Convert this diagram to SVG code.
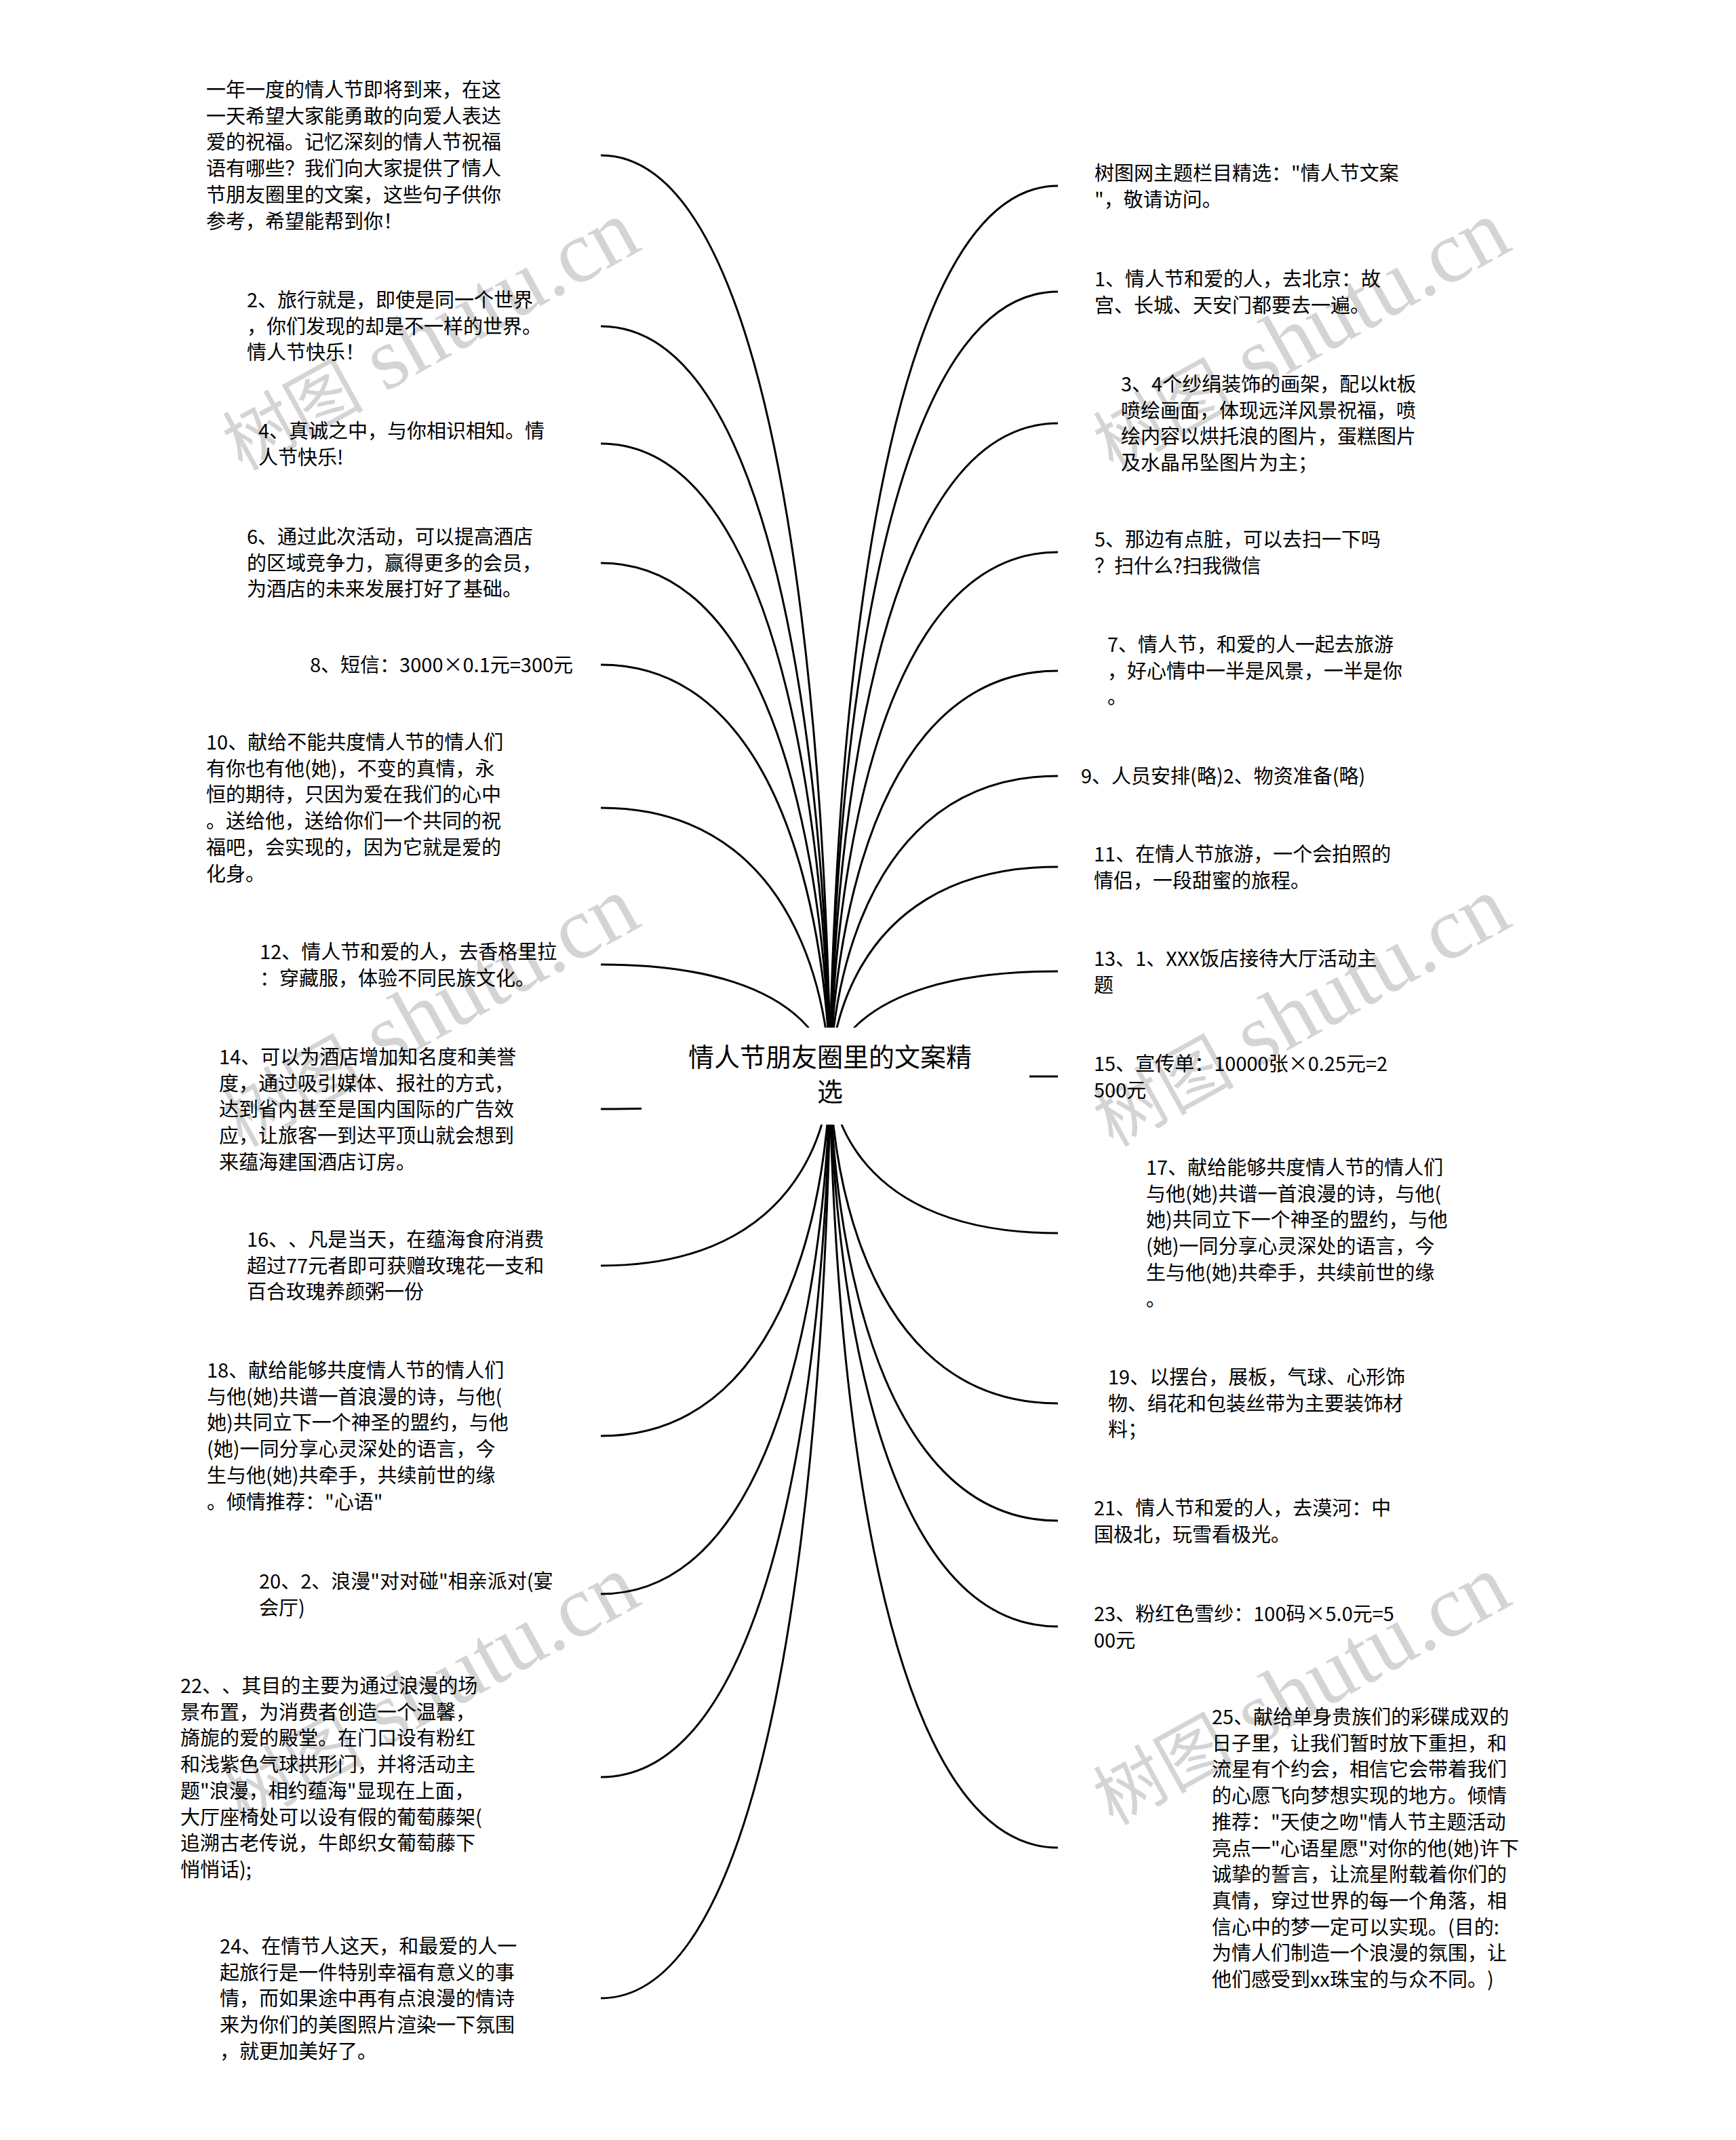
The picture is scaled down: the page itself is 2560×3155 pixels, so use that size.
<svg xmlns="http://www.w3.org/2000/svg" width="2560" height="3155" viewBox="0 0 2560 3155">
<style>
.t{font-family:"Noto Sans CJK SC","Liberation Sans",sans-serif;font-size:29px;fill:#000;text-spacing-trim:space-all}
.root{font-family:"Noto Sans CJK SC","Liberation Sans",sans-serif;font-size:38px;fill:#000;text-anchor:middle}
.c{fill:none;stroke:#000;stroke-width:3}
.wm{font-family:"Liberation Serif","Noto Sans CJK SC",serif;font-size:130px;fill:#000;fill-opacity:0.17}
.wm .cj{font-family:"Noto Sans CJK SC",serif;font-size:104px}
</style>
<rect width="2560" height="3155" fill="#fff"/>
<g id="watermarks">
<text class="wm" x="357" y="695" transform="rotate(-29 357 695)"><tspan class="cj">树图</tspan> shutu.cn</text>
<text class="wm" x="1641" y="695" transform="rotate(-29 1641 695)"><tspan class="cj">树图</tspan> shutu.cn</text>
<text class="wm" x="357" y="1692" transform="rotate(-29 357 1692)"><tspan class="cj">树图</tspan> shutu.cn</text>
<text class="wm" x="1641" y="1692" transform="rotate(-29 1641 1692)"><tspan class="cj">树图</tspan> shutu.cn</text>
<text class="wm" x="357" y="2692" transform="rotate(-29 357 2692)"><tspan class="cj">树图</tspan> shutu.cn</text>
<text class="wm" x="1641" y="2692" transform="rotate(-29 1641 2692)"><tspan class="cj">树图</tspan> shutu.cn</text>
</g>
<g id="connectors">
<path class="c" d="M886 229 C1224 229 1224 1586 1224 1586"/>
<path class="c" d="M886 481 C1224 481 1224 1586 1224 1586"/>
<path class="c" d="M886 654 C1224 654 1224 1586 1224 1586"/>
<path class="c" d="M886 830 C1224 830 1224 1586 1224 1586"/>
<path class="c" d="M886 980 C1224 980 1224 1586 1224 1586"/>
<path class="c" d="M886 1191 C1224 1191 1224 1586 1224 1586"/>
<path class="c" d="M886 1422 C1224 1422 1224 1586 1224 1586"/>
<path class="c" d="M886 1635 C1224 1635 1224 1586 1224 1586"/>
<path class="c" d="M886 1866 C1224 1866 1224 1586 1224 1586"/>
<path class="c" d="M886 2117 C1224 2117 1224 1586 1224 1586"/>
<path class="c" d="M886 2350 C1224 2350 1224 1586 1224 1586"/>
<path class="c" d="M886 2620 C1224 2620 1224 1586 1224 1586"/>
<path class="c" d="M886 2946 C1224 2946 1224 1586 1224 1586"/>
<path class="c" d="M1560 274 C1224 274 1224 1586 1224 1586"/>
<path class="c" d="M1560 430 C1224 430 1224 1586 1224 1586"/>
<path class="c" d="M1560 624 C1224 624 1224 1586 1224 1586"/>
<path class="c" d="M1560 814 C1224 814 1224 1586 1224 1586"/>
<path class="c" d="M1560 989 C1224 989 1224 1586 1224 1586"/>
<path class="c" d="M1560 1144 C1224 1144 1224 1586 1224 1586"/>
<path class="c" d="M1560 1278 C1224 1278 1224 1586 1224 1586"/>
<path class="c" d="M1560 1432 C1224 1432 1224 1586 1224 1586"/>
<path class="c" d="M1560 1587 C1224 1587 1224 1586 1224 1586"/>
<path class="c" d="M1560 1818 C1224 1818 1224 1586 1224 1586"/>
<path class="c" d="M1560 2069 C1224 2069 1224 1586 1224 1586"/>
<path class="c" d="M1560 2242 C1224 2242 1224 1586 1224 1586"/>
<path class="c" d="M1560 2398 C1224 2398 1224 1586 1224 1586"/>
<path class="c" d="M1560 2724 C1224 2724 1224 1586 1224 1586"/>
</g>
<g id="root">
<rect x="946" y="1515" width="572" height="143" fill="#fff"/>
<text class="root"><tspan x="1224" y="1572">情人节朋友圈里的文案精</tspan><tspan x="1224" y="1623">选</tspan></text>
</g>
<g id="L1"><text class="t"><tspan x="304" y="143">一年一度的情人节即将到来，在这</tspan><tspan x="304" y="182">一天希望大家能勇敢的向爱人表达</tspan><tspan x="304" y="220">爱的祝福。记忆深刻的情人节祝福</tspan><tspan x="304" y="259">语有哪些？我们向大家提供了情人</tspan><tspan x="304" y="298">节朋友圈里的文案，这些句子供你</tspan><tspan x="304" y="337">参考，希望能帮到你！</tspan></text></g>
<g id="L2"><text class="t"><tspan x="364" y="453">2、旅行就是，即使是同一个世界</tspan><tspan x="364" y="492">，你们发现的却是不一样的世界。</tspan><tspan x="364" y="530">情人节快乐！</tspan></text></g>
<g id="L3"><text class="t"><tspan x="381" y="646">4、真诚之中，与你相识相知。情</tspan><tspan x="381" y="685">人节快乐!</tspan></text></g>
<g id="L4"><text class="t"><tspan x="364" y="802">6、通过此次活动，可以提高酒店</tspan><tspan x="364" y="841">的区域竞争力，赢得更多的会员，</tspan><tspan x="364" y="879">为酒店的未来发展打好了基础。</tspan></text></g>
<g id="L5"><text class="t"><tspan x="457" y="991">8、短信：3000×0.1元=300元</tspan></text></g>
<g id="L6"><text class="t"><tspan x="304" y="1105">10、献给不能共度情人节的情人们</tspan><tspan x="304" y="1144">有你也有他(她)，不变的真情，永</tspan><tspan x="304" y="1182">恒的期待，只因为爱在我们的心中</tspan><tspan x="304" y="1221">。送给他，送给你们一个共同的祝</tspan><tspan x="304" y="1260">福吧，会实现的，因为它就是爱的</tspan><tspan x="304" y="1299">化身。</tspan></text></g>
<g id="L7"><text class="t"><tspan x="383" y="1414">12、情人节和爱的人，去香格里拉</tspan><tspan x="383" y="1453">：穿藏服，体验不同民族文化。</tspan></text></g>
<g id="L8"><text class="t"><tspan x="323" y="1569">14、可以为酒店增加知名度和美誉</tspan><tspan x="323" y="1608">度，通过吸引媒体、报社的方式，</tspan><tspan x="323" y="1646">达到省内甚至是国内国际的广告效</tspan><tspan x="323" y="1685">应，让旅客一到达平顶山就会想到</tspan><tspan x="323" y="1724">来蕴海建国酒店订房。</tspan></text></g>
<g id="L9"><text class="t"><tspan x="364" y="1838">16、、凡是当天，在蕴海食府消费</tspan><tspan x="364" y="1877">超过77元者即可获赠玫瑰花一支和</tspan><tspan x="364" y="1915">百合玫瑰养颜粥一份</tspan></text></g>
<g id="L10"><text class="t"><tspan x="305" y="2031">18、献给能够共度情人节的情人们</tspan><tspan x="305" y="2070">与他(她)共谱一首浪漫的诗，与他(</tspan><tspan x="305" y="2108">她)共同立下一个神圣的盟约，与他</tspan><tspan x="305" y="2147">(她)一同分享心灵深处的语言，今</tspan><tspan x="305" y="2186">生与他(她)共牵手，共续前世的缘</tspan><tspan x="305" y="2225">。倾情推荐："心语"</tspan></text></g>
<g id="L11"><text class="t"><tspan x="382" y="2342">20、2、浪漫"对对碰"相亲派对(宴</tspan><tspan x="382" y="2381">会厅)</tspan></text></g>
<g id="L12"><text class="t"><tspan x="266" y="2496">22、、其目的主要为通过浪漫的场</tspan><tspan x="266" y="2535">景布置，为消费者创造一个温馨，</tspan><tspan x="266" y="2573">旖旎的爱的殿堂。在门口设有粉红</tspan><tspan x="266" y="2612">和浅紫色气球拱形门，并将活动主</tspan><tspan x="266" y="2651">题"浪漫，相约蕴海"显现在上面，</tspan><tspan x="266" y="2690">大厅座椅处可以设有假的葡萄藤架(</tspan><tspan x="266" y="2728">追溯古老传说，牛郎织女葡萄藤下</tspan><tspan x="266" y="2767">悄悄话);</tspan></text></g>
<g id="L13"><text class="t"><tspan x="324" y="2880">24、在情节人这天，和最爱的人一</tspan><tspan x="324" y="2919">起旅行是一件特别幸福有意义的事</tspan><tspan x="324" y="2957">情，而如果途中再有点浪漫的情诗</tspan><tspan x="324" y="2996">来为你们的美图照片渲染一下氛围</tspan><tspan x="324" y="3035">，就更加美好了。</tspan></text></g>
<g id="R1"><text class="t"><tspan x="1614" y="266">树图网主题栏目精选："情人节文案</tspan><tspan x="1614" y="305">"，敬请访问。</tspan></text></g>
<g id="R2"><text class="t"><tspan x="1614" y="422">1、情人节和爱的人，去北京：故</tspan><tspan x="1614" y="461">宫、长城、天安门都要去一遍。</tspan></text></g>
<g id="R3"><text class="t"><tspan x="1653" y="577">3、4个纱绢装饰的画架，配以kt板</tspan><tspan x="1653" y="616">喷绘画面，体现远洋风景祝福，喷</tspan><tspan x="1653" y="654">绘内容以烘托浪的图片，蛋糕图片</tspan><tspan x="1653" y="693">及水晶吊坠图片为主；</tspan></text></g>
<g id="R4"><text class="t"><tspan x="1614" y="806">5、那边有点脏，可以去扫一下吗</tspan><tspan x="1614" y="845">？扫什么?扫我微信</tspan></text></g>
<g id="R5"><text class="t"><tspan x="1633" y="961">7、情人节，和爱的人一起去旅游</tspan><tspan x="1633" y="1000">，好心情中一半是风景，一半是你</tspan><tspan x="1633" y="1038">。</tspan></text></g>
<g id="R6"><text class="t"><tspan x="1594" y="1155">9、人员安排(略)2、物资准备(略)</tspan></text></g>
<g id="R7"><text class="t"><tspan x="1613" y="1270">11、在情人节旅游，一个会拍照的</tspan><tspan x="1613" y="1309">情侣，一段甜蜜的旅程。</tspan></text></g>
<g id="R8"><text class="t"><tspan x="1613" y="1424">13、1、XXX饭店接待大厅活动主</tspan><tspan x="1613" y="1463">题</tspan></text></g>
<g id="R9"><text class="t"><tspan x="1613" y="1579">15、宣传单：10000张×0.25元=2</tspan><tspan x="1613" y="1618">500元</tspan></text></g>
<g id="R10"><text class="t"><tspan x="1690" y="1732">17、献给能够共度情人节的情人们</tspan><tspan x="1690" y="1771">与他(她)共谱一首浪漫的诗，与他(</tspan><tspan x="1690" y="1809">她)共同立下一个神圣的盟约，与他</tspan><tspan x="1690" y="1848">(她)一同分享心灵深处的语言，今</tspan><tspan x="1690" y="1887">生与他(她)共牵手，共续前世的缘</tspan><tspan x="1690" y="1926">。</tspan></text></g>
<g id="R11"><text class="t"><tspan x="1634" y="2041">19、以摆台，展板，气球、心形饰</tspan><tspan x="1634" y="2080">物、绢花和包装丝带为主要装饰材</tspan><tspan x="1634" y="2118">料；</tspan></text></g>
<g id="R12"><text class="t"><tspan x="1613" y="2234">21、情人节和爱的人，去漠河：中</tspan><tspan x="1613" y="2273">国极北，玩雪看极光。</tspan></text></g>
<g id="R13"><text class="t"><tspan x="1613" y="2390">23、粉红色雪纱：100码×5.0元=5</tspan><tspan x="1613" y="2429">00元</tspan></text></g>
<g id="R14"><text class="t"><tspan x="1787" y="2542">25、献给单身贵族们的彩碟成双的</tspan><tspan x="1787" y="2581">日子里，让我们暂时放下重担，和</tspan><tspan x="1787" y="2619">流星有个约会，相信它会带着我们</tspan><tspan x="1787" y="2658">的心愿飞向梦想实现的地方。倾情</tspan><tspan x="1787" y="2697">推荐："天使之吻"情人节主题活动</tspan><tspan x="1787" y="2736">亮点一"心语星愿"对你的他(她)许下</tspan><tspan x="1787" y="2774">诚挚的誓言，让流星附载着你们的</tspan><tspan x="1787" y="2813">真情，穿过世界的每一个角落，相</tspan><tspan x="1787" y="2852">信心中的梦一定可以实现。(目的:</tspan><tspan x="1787" y="2890">为情人们制造一个浪漫的氛围，让</tspan><tspan x="1787" y="2929">他们感受到xx珠宝的与众不同。)</tspan></text></g>
</svg>
